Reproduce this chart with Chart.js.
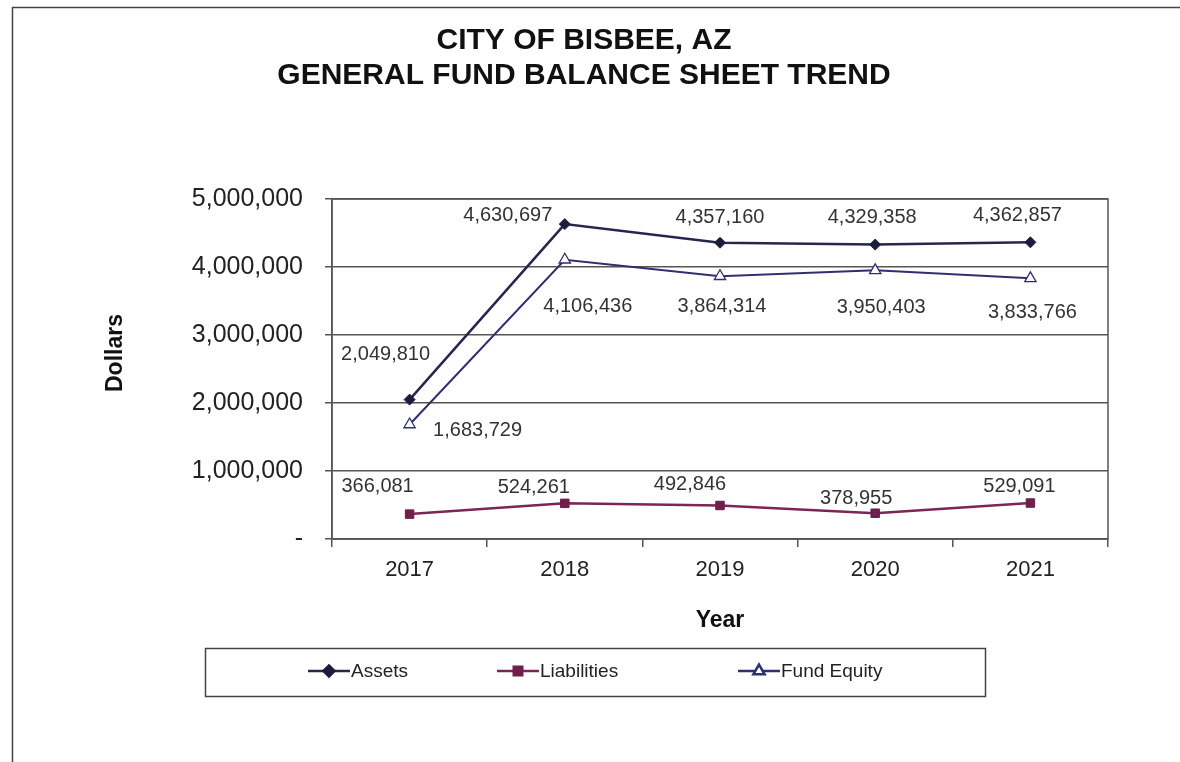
<!DOCTYPE html>
<html>
<head>
<meta charset="utf-8">
<script src="https://cdn.jsdelivr.net/npm/chart.js@4"></script>
<style>
  body { margin: 0; background: #fff; }
  #wrap { width: 1180px; height: 762px; position: relative; }
</style>
</head>
<body>
<div id="wrap"><canvas id="myChart"></canvas></div>
<script>
const years = ['2017', '2018', '2019', '2020', '2021'];
const assets = [2049810, 4630697, 4357160, 4329358, 4362857];
const liabilities = [366081, 524261, 492846, 378955, 529091];
const fundEquity = [1683729, 4106436, 3864314, 3950403, 3833766];
const titleLines = ['CITY OF BISBEE, AZ', 'GENERAL FUND BALANCE SHEET TREND'];

const FONT = '"Liberation Sans", Arial, sans-serif';

// where each value label sits relative to its point (dx, dy)
const labelOffsets = [
  [[-24, -45], [-57, -9], [0, -25], [-3, -27], [-13, -27]],
  [[-32, -28], [-31, -16], [-30, -21], [-19, -15], [-11, -17]],
  [[68, 6], [23, 47], [2, 30], [6, 37], [2, 34]]
];

const fmt = v => v.toLocaleString('en-US');

const extras = {
  id: 'extras',
  afterDraw(chart) {
    const ctx = chart.ctx;
    const a = chart.chartArea;
    ctx.save();

    // outer frame
    ctx.strokeStyle = '#444';
    ctx.lineWidth = 1.5;
    ctx.strokeRect(12.5, 7.5, 1190, 800);

    // plot border
    ctx.strokeStyle = '#555';
    ctx.lineWidth = 1.5;
    ctx.strokeRect(a.left, a.top, a.right - a.left, a.bottom - a.top);

    // title
    ctx.fillStyle = '#111';
    ctx.font = 'bold 30px ' + FONT;
    ctx.textAlign = 'center';
    ctx.textBaseline = 'middle';
    ctx.fillText(titleLines[0], 584, 41);
    ctx.fillText(titleLines[1], 584, 76);

    // y axis title
    ctx.save();
    ctx.translate(116, 353);
    ctx.rotate(-Math.PI / 2);
    ctx.font = 'bold 23px ' + FONT;
    ctx.fillText('Dollars', 0, 0);
    ctx.restore();

    // value labels
    ctx.font = '20px ' + FONT;
    ctx.fillStyle = '#333';
    chart.data.datasets.forEach((ds, i) => {
      chart.getDatasetMeta(i).data.forEach((pt, j) => {
        const o = labelOffsets[i][j];
        ctx.fillText(fmt(ds.data[j]), pt.x + o[0], pt.y + o[1]);
      });
    });

    // legend box
    ctx.strokeStyle = '#444';
    ctx.lineWidth = 1.5;
    ctx.strokeRect(205.5, 648.5, 780, 48);
    const starts = [308, 497, 738];
    ctx.font = '19px ' + FONT;
    ctx.textAlign = 'left';
    chart.data.datasets.forEach((ds, i) => {
      const x0 = starts[i], y = 671;
      ctx.strokeStyle = ds.borderColor;
      ctx.lineWidth = 2.5;
      ctx.beginPath();
      ctx.moveTo(x0, y);
      ctx.lineTo(x0 + 42, y);
      ctx.stroke();
      ctx.fillStyle = ds.pointBackgroundColor;
      ctx.strokeStyle = ds.pointBorderColor;
      Chart.helpers.drawPoint(ctx, {
        pointStyle: ds.pointStyle, radius: ds.pointRadius,
        borderWidth: ds.pointBorderWidth, rotation: 0
      }, x0 + 21, y);
      ctx.fillStyle = '#222';
      ctx.fillText(ds.label, x0 + 43, y + 1);
    });
    ctx.restore();
  }
};

new Chart(document.getElementById('myChart').getContext('2d'), {
  type: 'line',
  data: {
    labels: years,
    datasets: [
      {
        label: 'Assets', data: assets,
        borderColor: '#26264f', borderWidth: 2.5,
        pointStyle: 'rectRot', pointRadius: 5.5,
        pointBackgroundColor: '#1c1c3c', pointBorderColor: '#1c1c3c', pointBorderWidth: 1
      },
      {
        label: 'Liabilities', data: liabilities,
        borderColor: '#7d2554', borderWidth: 2.5,
        pointStyle: 'rect', pointRadius: 6,
        pointBackgroundColor: '#6e1f4a', pointBorderColor: '#6e1f4a', pointBorderWidth: 1
      },
      {
        label: 'Fund Equity', data: fundEquity,
        borderColor: '#2f2f72', borderWidth: 2,
        pointStyle: 'triangle', pointRadius: 6.5,
        pointBackgroundColor: '#ffffff', pointBorderColor: '#2f2f72', pointBorderWidth: 1.3
      }
    ]
  },
  options: {
    responsive: true,
    maintainAspectRatio: false,
    animation: false,
    layout: { padding: { top: 199, right: 72, bottom: 0, left: 95 } },
    plugins: { legend: { display: false }, tooltip: { enabled: false } },
    scales: {
      x: {
        offset: true,
        afterFit: s => { s.height = 223; },
        grid: { offset: true, drawOnChartArea: false, tickLength: 8, color: '#555', lineWidth: 1.5 },
        border: { color: '#555', width: 1.5 },
        ticks: { padding: 10, color: '#222', font: { family: FONT, size: 22 } },
        title: {
          display: true, text: 'Year', color: '#111',
          font: { family: FONT, size: 23, weight: 'bold' },
          padding: { top: 0, bottom: 128 }
        }
      },
      y: {
        min: 0, max: 5000000,
        afterFit: s => { s.width = 237; },
        grid: { tickLength: 7, color: '#555', lineWidth: 1.5 },
        border: { color: '#555', width: 1.5 },
        ticks: {
          stepSize: 1000000, padding: 22, color: '#222',
          font: { family: FONT, size: 25 },
          callback: v => v === 0 ? '-' : fmt(v)
        },
        title: { display: false }
      }
    }
  },
  plugins: [extras]
});
</script>
</body>
</html>
